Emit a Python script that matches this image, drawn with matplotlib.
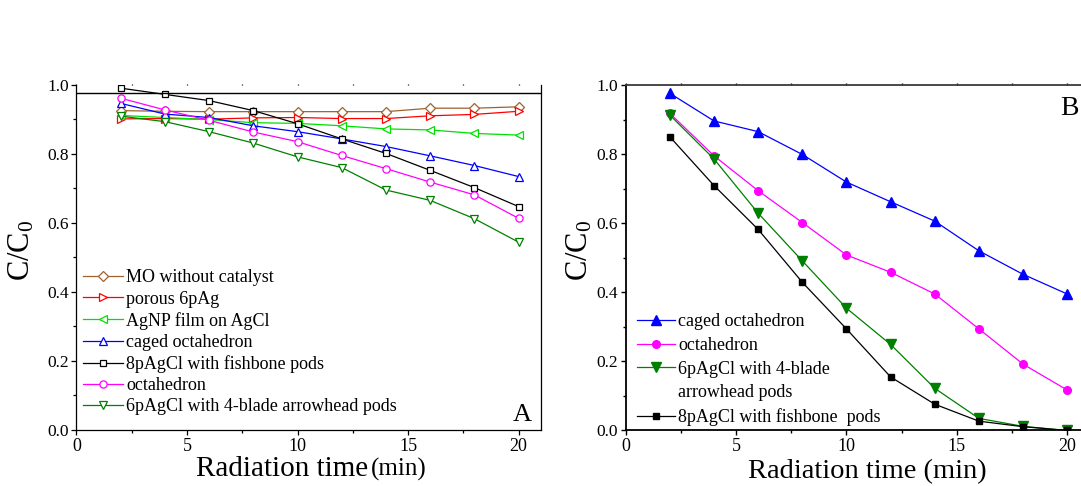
import matplotlib
matplotlib.use("Agg")
import matplotlib.pyplot as plt
from matplotlib.lines import Line2D
from matplotlib.ticker import MultipleLocator

plt.rcParams['font.family'] = ['Liberation Serif', 'DejaVu Serif']
plt.rcParams['mathtext.fontset'] = 'custom'
plt.rcParams['mathtext.rm'] = 'Liberation Serif'
plt.rcParams['mathtext.it'] = 'Liberation Serif:italic'

# ---- Panel A: MO degradation with different catalysts ----
time_a = [2, 4, 6, 8, 10, 12, 14, 16, 18, 20]
mo_no_catalyst = [0.925, 0.923, 0.922, 0.922, 0.922, 0.922, 0.922, 0.932, 0.932, 0.936]
porous_6pag = [0.901, 0.902, 0.900, 0.904, 0.905, 0.902, 0.902, 0.910, 0.914, 0.923]
agnp_film = [0.911, 0.905, 0.899, 0.890, 0.888, 0.881, 0.872, 0.869, 0.859, 0.854]
caged_oct_a = [0.946, 0.915, 0.905, 0.881, 0.864, 0.843, 0.821, 0.794, 0.766, 0.734]
fishbone_a = [0.990, 0.972, 0.954, 0.925, 0.887, 0.843, 0.801, 0.752, 0.702, 0.647]
octahedron_a = [0.961, 0.927, 0.897, 0.863, 0.835, 0.795, 0.757, 0.718, 0.681, 0.613]
arrowhead_a = [0.909, 0.893, 0.864, 0.831, 0.791, 0.760, 0.695, 0.665, 0.612, 0.544]
labels_a = ["MO without catalyst", "porous 6pAg", "AgNP film on AgCl",
            "caged octahedron", "8pAgCl with fishbone pods", "octahedron",
            "6pAgCl with 4-blade arrowhead pods"]

# ---- Panel B: degradation with four AgCl morphologies ----
time_b = [2, 4, 6, 8, 10, 12, 14, 16, 18, 20]
caged_oct_b = [0.976, 0.896, 0.865, 0.799, 0.719, 0.662, 0.606, 0.520, 0.452, 0.395]
octahedron_b = [0.918, 0.795, 0.694, 0.602, 0.508, 0.458, 0.395, 0.294, 0.192, 0.117]
arrowhead_b = [0.913, 0.786, 0.629, 0.491, 0.354, 0.249, 0.122, 0.035, 0.012, 0.0]
fishbone_b = [0.850, 0.709, 0.582, 0.429, 0.294, 0.155, 0.076, 0.027, 0.011, 0.0]
labels_b = ["caged octahedron", "octahedron", "6pAgCl with 4-blade",
            "arrowhead pods", "8pAgCl with fishbone  pods"]

ylabel = r"C/C$_\mathrm{0}$"

fig = plt.figure(figsize=(10.81, 4.86), dpi=100)

# ================= Panel A =================
ax_a = fig.add_axes([0.0707, 0.1152, 0.4295, 0.7105])
styles_a = [
    (mo_no_catalyst, "#A0622D", "D", 5.0),
    (porous_6pag, "#FF0000", ">", 5.5),
    (agnp_film, "#00E000", "<", 5.5),
    (caged_oct_a, "#0000FF", "^", 5.5),
    (fishbone_a, "#000000", "s", 4.8),
    (octahedron_a, "#FF00FF", "o", 5.2),
    (arrowhead_a, "#008000", "v", 5.5),
]
handles_a = []
for (vals, col, mk, ms), lab in zip(styles_a, labels_a):
    h, = ax_a.plot(time_a, vals, color=col, lw=0.9, marker=mk, ms=ms,
                   mfc="white", mec=col, mew=0.9, label=lab)
    handles_a.append(h)

ax_a.set_xlim(0, 21)
ax_a.set_ylim(0, 1.0)
ax_a.axhline(0.976, color="black", lw=1.0)
ax_a.spines["top"].set_visible(False)
for s in ("left", "right", "bottom"):
    ax_a.spines[s].set_linewidth(0.9)
ax_a.xaxis.set_major_locator(MultipleLocator(5))
ax_a.xaxis.set_minor_locator(MultipleLocator(2.5))
ax_a.yaxis.set_major_locator(MultipleLocator(0.2))
ax_a.yaxis.set_minor_locator(MultipleLocator(0.1))
ax_a.yaxis.set_major_formatter(plt.FormatStrFormatter("%.1f"))
ax_a.tick_params(axis="both", which="major", direction="out", length=3.5, width=0.9)
ax_a.tick_params(axis="both", which="minor", direction="out", length=2.2, width=0.9)
ax_a.tick_params(axis="x", which="both", top=True, labelsize=13, pad=2)
ax_a.tick_params(axis="y", labelsize=12.5, pad=2)
# tiny tick dots along the top edge
for tl in ax_a.xaxis.get_majorticklines()[1::2] + ax_a.xaxis.get_minorticklines()[1::2]:
    tl.set_markersize(1.0)

ax_a.set_ylabel(ylabel, fontsize=22, labelpad=0)
ax_a.yaxis.set_label_coords(-0.087, 0.52)
ax_a.text(0.628, -0.133, "Radiation time", transform=ax_a.transAxes,
          ha="right", va="baseline", fontsize=21)
ax_a.text(0.634, -0.133, "(min)", transform=ax_a.transAxes,
          ha="left", va="baseline", fontsize=18)
ax_a.text(0.981, 0.027, "A", transform=ax_a.transAxes, ha="right",
          va="baseline", fontsize=19)

ax_a.legend(handles=handles_a, loc="lower left", bbox_to_anchor=(0.014, 0.043),
            frameon=False, fontsize=13, handlelength=2.2, handletextpad=0.2,
            labelspacing=0.23, borderpad=0, borderaxespad=0, numpoints=1)

# ================= Panel B =================
ax_b = fig.add_axes([0.5788, 0.1142, 0.4289, 0.7109])
styles_b = [
    (caged_oct_b, "#0000FF", "^", 6.5),
    (octahedron_b, "#FF00FF", "o", 5.5),
    (arrowhead_b, "#007F00", "v", 6.5),
    (fishbone_b, "#000000", "s", 5.0),
]
lines_b = []
for vals, col, mk, ms in styles_b:
    h, = ax_b.plot(time_b, vals, color=col, lw=0.9, marker=mk, ms=ms,
                   mfc=col, mec=col)
    lines_b.append(h)

blank = Line2D([], [], linestyle="none", marker=None)
ax_b.legend(handles=[lines_b[0], lines_b[1], lines_b[2], blank, lines_b[3]],
            labels=labels_b, loc="lower left", bbox_to_anchor=(0.0237, 0.013),
            frameon=False, fontsize=13, handlelength=2.1, handletextpad=0.2,
            labelspacing=0.37, borderpad=0, borderaxespad=0, numpoints=1)

ax_b.set_xlim(0, 21)
ax_b.set_ylim(0, 1.0)
for s in ax_b.spines.values():
    s.set_linewidth(1.3)
    s.set_color("#3a3a3a")
ax_b.spines["left"].set_color("black")
ax_b.spines["bottom"].set_color("black")
ax_b.xaxis.set_major_locator(MultipleLocator(5))
ax_b.xaxis.set_minor_locator(MultipleLocator(2.5))
ax_b.yaxis.set_major_locator(MultipleLocator(0.2))
ax_b.yaxis.set_minor_locator(MultipleLocator(0.1))
ax_b.yaxis.set_major_formatter(plt.FormatStrFormatter("%.1f"))
ax_b.tick_params(axis="both", which="major", direction="out", length=3.5, width=1.0)
ax_b.tick_params(axis="both", which="minor", direction="out", length=2.2, width=1.0)
ax_b.tick_params(axis="x", labelsize=13, pad=2)
ax_b.tick_params(axis="y", labelsize=12.5, pad=2)
ax_b.tick_params(axis="x", which="both", top=True)
for tl in ax_b.xaxis.get_majorticklines()[1::2] + ax_b.xaxis.get_minorticklines()[1::2]:
    tl.set_markersize(1.5)

ax_b.set_ylabel(ylabel, fontsize=22, labelpad=0)
ax_b.yaxis.set_label_coords(-0.067, 0.52)
ax_b.text(0.522, -0.137, "Radiation time (min)", transform=ax_b.transAxes,
          ha="center", va="baseline", fontsize=20.5)
ax_b.text(0.9776, 0.913, "B", transform=ax_b.transAxes, ha="right",
          va="baseline", fontsize=20)

fig.savefig("out.png", dpi=100)
